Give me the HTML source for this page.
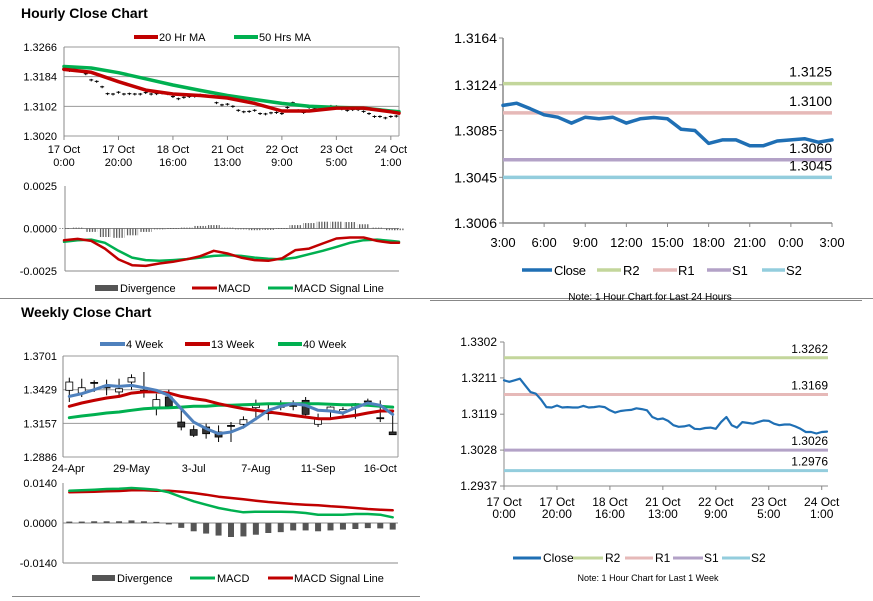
<!DOCTYPE html>
<html><head><meta charset="utf-8"><style>
body{margin:0;background:#fff;}
svg{display:block;font-family:"Liberation Sans",Arial,sans-serif;}
</style></head><body>
<svg id="s" width="873" height="601" xmlns="http://www.w3.org/2000/svg">
<defs><pattern id="stripes" width="2.7" height="4" patternUnits="userSpaceOnUse"><rect width="1.2" height="4" fill="#555"/></pattern></defs>
<text x="21" y="18" font-size="14" font-weight="bold" fill="#000">Hourly Close Chart</text>
<text x="21" y="317" font-size="14" font-weight="bold" fill="#000">Weekly Close Chart</text>
<line x1="0" y1="298.5" x2="873" y2="298.5" stroke="#888"/>
<line x1="12" y1="596.5" x2="420" y2="596.5" stroke="#888"/>
<!-- legends -->
<g font-size="11" fill="#000">
<line x1="134" y1="37" x2="158" y2="37" stroke="#c00000" stroke-width="4"/><text x="159" y="41">20 Hr MA</text>
<line x1="234" y1="37" x2="258" y2="37" stroke="#00b050" stroke-width="4"/><text x="259" y="41">50 Hrs MA</text>
</g>
<g font-size="11" fill="#000">
<rect x="95" y="285" width="23" height="6" fill="#555"/><text x="120" y="292">Divergence</text>
<line x1="192" y1="288" x2="217" y2="288" stroke="#c00000" stroke-width="3"/><text x="218" y="292">MACD</text>
<line x1="268" y1="288" x2="293" y2="288" stroke="#00b050" stroke-width="3"/><text x="294" y="292">MACD Signal Line</text>
</g>
<g font-size="11" fill="#000">
<line x1="100" y1="344" x2="125" y2="344" stroke="#4f81bd" stroke-width="4"/><text x="126" y="348">4 Week</text>
<line x1="185" y1="344" x2="210" y2="344" stroke="#c00000" stroke-width="4"/><text x="211" y="348">13 Week</text>
<line x1="278" y1="344" x2="302" y2="344" stroke="#00b050" stroke-width="4"/><text x="303" y="348">40 Week</text>
</g>
<g font-size="11" fill="#000">
<rect x="92" y="575" width="23" height="6" fill="#555"/><text x="117" y="582">Divergence</text>
<line x1="190" y1="578" x2="215" y2="578" stroke="#00b050" stroke-width="3"/><text x="217" y="582">MACD</text>
<line x1="268" y1="578" x2="293" y2="578" stroke="#c00000" stroke-width="3"/><text x="294" y="582">MACD Signal Line</text>
</g>
<g font-size="13" fill="#000">
<line x1="522" y1="270" x2="552" y2="270" stroke="#1f6fb4" stroke-width="3.5"/><text x="554" y="275" textLength="32">Close</text>
<line x1="597" y1="270" x2="621" y2="270" stroke="#c3d69b" stroke-width="3.5"/><text x="623" y="275">R2</text>
<line x1="653" y1="270" x2="677" y2="270" stroke="#e6b9b8" stroke-width="3.5"/><text x="678" y="275">R1</text>
<line x1="707" y1="270" x2="731" y2="270" stroke="#b3a2c7" stroke-width="3.5"/><text x="732" y="275">S1</text>
<line x1="762" y1="270" x2="785" y2="270" stroke="#93cddd" stroke-width="3.5"/><text x="786" y="275">S2</text>
<text x="650" y="300" font-size="10" text-anchor="middle">Note: 1 Hour Chart for Last 24 Hours</text>
</g>
<line x1="430" y1="300.5" x2="862" y2="300.5" stroke="#888"/>
<g font-size="12" fill="#000">
<line x1="513" y1="558" x2="541" y2="558" stroke="#1f6fb4" stroke-width="3"/><text x="543" y="562">Close</text>
<line x1="573" y1="558" x2="603" y2="558" stroke="#c3d69b" stroke-width="3"/><text x="605" y="562">R2</text>
<line x1="625" y1="558" x2="653" y2="558" stroke="#e6b9b8" stroke-width="3"/><text x="655" y="562">R1</text>
<line x1="673" y1="558" x2="703" y2="558" stroke="#b3a2c7" stroke-width="3"/><text x="704" y="562">S1</text>
<line x1="722" y1="558" x2="750" y2="558" stroke="#93cddd" stroke-width="3"/><text x="751" y="562">S2</text>
<text x="648" y="581" font-size="9" text-anchor="middle">Note: 1 Hour Chart for  Last 1 Week</text>
</g>
</svg>
<script>
// ---- data: hourly close (shared, 2-hour steps) ----
const closeHours=[0,2,4,6,8,10,12,14,16,18,20,22,24,26,28,30,32,34,36,38,40,42,44,46,48,50,52,54,56,58,60,62,64,66,68,70,72,74,76,78,80,82,84,86,88,90,92,94,96,98,100,102,104,106,108,110,112,114,116,118,120,122];
const closeVals=[1.3205,1.3201,1.3205,1.3209,1.3192,1.3175,1.3171,1.3156,1.3137,1.3136,1.3141,1.3136,1.3137,1.3136,1.3136,1.3140,1.3136,1.3137,1.3139,1.3137,1.3129,1.3123,1.3127,1.3129,1.3130,1.3134,1.3132,1.3129,1.3112,1.3106,1.3108,1.3102,1.3091,1.3087,1.3088,1.3091,1.3082,1.3081,1.3084,1.3085,1.3082,1.3099,1.3112,1.3091,1.3085,1.3099,1.3097,1.3095,1.3099,1.3103,1.3102,1.3095,1.3091,1.3093,1.3093,1.3088,1.3082,1.3074,1.3074,1.3070,1.3074,1.3075];
const maHours=[0,10,20,30,40,50,60,70,80,90,100,110,120,123];
const ma20=[1.3204,1.3196,1.3170,1.3147,1.3136,1.3132,1.3125,1.3110,1.3089,1.3089,1.3097,1.3097,1.3087,1.3083];
const ma50=[1.3212,1.3208,1.3195,1.3178,1.3161,1.3146,1.3132,1.3121,1.3110,1.3102,1.3099,1.3097,1.3089,1.3087];
const hTickHours=[0,20,40,60,80,100,120];
const hTickL1=["17 Oct","17 Oct","18 Oct","21 Oct","22 Oct","23 Oct","24 Oct"];
const hTickL2=["0:00","20:00","16:00","13:00","9:00","5:00","1:00"];
const hYTicks=[1.3020,1.3102,1.3184,1.3266];
// hourly MACD (5-hour steps)
const macdHours=[0,5,10,15,20,25,30,35,40,45,50,55,60,65,70,75,80,85,90,95,100,105,110,115,120,123];
const macdH=[-0.00069,-0.00061,-0.00073,-0.00118,-0.00182,-0.00216,-0.00220,-0.00206,-0.00196,-0.00181,-0.00163,-0.00131,-0.00147,-0.00171,-0.00186,-0.00190,-0.00176,-0.00127,-0.00118,-0.00088,-0.00059,-0.00053,-0.00053,-0.00073,-0.00084,-0.00084];
const signalH=[-0.00078,-0.00069,-0.00065,-0.00084,-0.00131,-0.00171,-0.00186,-0.00190,-0.00186,-0.00180,-0.00171,-0.00161,-0.00157,-0.00161,-0.00171,-0.00178,-0.00182,-0.00171,-0.00151,-0.00131,-0.00108,-0.00084,-0.00069,-0.00065,-0.00073,-0.00078];
const divH=[0.00003,0.00005,-0.0002,-0.0005,-0.00055,-0.0004,-0.0002,-0.00005,0.00002,0.00005,0.00015,0.0002,0.00005,-0.00005,-0.0001,-0.00008,0.00002,0.0002,0.00032,0.0004,0.0004,0.00038,0.00025,0.00005,-0.0001,-0.0001];
const macdYTicks=[-0.0025,0,0.0025];
// right top: last 24 hours
const dayHours=[0,1,2,3,4,5,6,7,8,9,10,11,12,13,14,15,16,17,18,19,20,21,22,23,24];
const dayClose=[1.31064,1.31083,1.31035,1.30984,1.30964,1.30913,1.30964,1.3095,1.30964,1.30913,1.3095,1.30961,1.3095,1.3086,1.3085,1.3074,1.3077,1.3077,1.3072,1.3072,1.3076,1.3077,1.3078,1.3075,1.3077];
const dayLevels=[1.3125,1.3100,1.3060,1.3045];
const dayLevelLabels=["1.3125","1.3100","1.3060","1.3045"];
const dayYTicks=[1.3006,1.3045,1.3085,1.3124,1.3164];
const dayXTickHours=[0,3,6,9,12,15,18,21,24];
const dayXTicks=["3:00","6:00","9:00","12:00","15:00","18:00","21:00","0:00","3:00"];
// right bottom: week
const weekLevels=[1.3262,1.3169,1.3028,1.2976];
const weekLevelLabels=["1.3262","1.3169","1.3026","1.2976"];
const weekYTicks=[1.2937,1.3028,1.3119,1.3211,1.3302];
// weekly candles
const wOpen=[1.3424,1.3402,1.3488,1.3464,1.3411,1.3491,1.3424,1.3289,1.3370,1.3168,1.3107,1.3128,1.3088,1.3141,1.3150,1.3284,1.3236,1.3295,1.3303,1.3343,1.3150,1.3257,1.3246,1.3284,1.3338,1.3203,1.3088];
const wHigh=[1.3526,1.3518,1.3505,1.3510,1.3518,1.3553,1.3572,1.3397,1.3429,1.3276,1.3141,1.3155,1.3141,1.3168,1.3214,1.3349,1.3322,1.3343,1.3343,1.3370,1.3236,1.3295,1.3289,1.3322,1.3357,1.3343,1.3249];
const wLow=[1.3330,1.3370,1.3411,1.3384,1.3384,1.3429,1.3365,1.3222,1.3295,1.3101,1.3047,1.3034,1.3007,1.3007,1.3115,1.3182,1.3182,1.3263,1.3263,1.3222,1.3128,1.3195,1.3222,1.3195,1.3316,1.3168,1.3066];
const wClose=[1.3491,1.3445,1.3486,1.3443,1.3437,1.3526,1.3411,1.3349,1.3295,1.3128,1.3061,1.3074,1.3047,1.3138,1.3187,1.3303,1.3249,1.3290,1.3300,1.3230,1.3195,1.3289,1.3268,1.3316,1.3336,1.3200,1.3066];
const ma4=[1.3375,1.3397,1.3429,1.3464,1.3456,1.3464,1.3445,1.3424,1.3384,1.3276,1.3168,1.3115,1.3074,1.3088,1.3128,1.3195,1.3263,1.3295,1.3316,1.3303,1.3263,1.3257,1.3241,1.3284,1.3322,1.3303,1.3230];
const ma13=[1.3295,1.3322,1.3343,1.3362,1.3375,1.3402,1.3411,1.3411,1.3402,1.3375,1.3357,1.3343,1.3316,1.3295,1.3276,1.3263,1.3249,1.3236,1.3222,1.3209,1.3195,1.3195,1.3209,1.3222,1.3241,1.3257,1.3257];
const ma40=[1.3203,1.3217,1.3228,1.3241,1.3249,1.3263,1.3276,1.3281,1.3284,1.3289,1.3295,1.3295,1.3303,1.3303,1.3308,1.3311,1.3316,1.3316,1.3316,1.3316,1.3316,1.3311,1.3308,1.3308,1.3303,1.3295,1.3289];
const wTickIdx=[0,5,10,15,20,25];
const wTickLabels=["24-Apr","29-May","3-Jul","7-Aug","11-Sep","16-Oct"];
const wYTicks=[1.2886,1.3157,1.3429,1.3701];
const wMacd=[0.01132,0.01144,0.01167,0.0119,0.01202,0.01225,0.01202,0.01167,0.01074,0.0091,0.00759,0.00642,0.00525,0.00443,0.00373,0.00397,0.00397,0.00397,0.00385,0.0035,0.00292,0.00292,0.00292,0.00315,0.00315,0.00292,0.00198];
const wSignal=[0.01074,0.01085,0.01097,0.01109,0.0112,0.01144,0.01144,0.01132,0.01132,0.01097,0.0105,0.00992,0.00922,0.00875,0.00829,0.00782,0.00735,0.007,0.00665,0.00642,0.00619,0.00584,0.0056,0.00525,0.0049,0.00467,0.00443];
const wDiv=[0.0005,0.0005,0.0006,0.0006,0.0006,0.0009,0.0006,0.0004,-0.0005,-0.0017,-0.0029,-0.0037,-0.0044,-0.0049,-0.0047,-0.0041,-0.0035,-0.0032,-0.0026,-0.0026,-0.0029,-0.0026,-0.0023,-0.0021,-0.0018,-0.0019,-0.0023];
const wMacdYTicks=[-0.014,0,0.014];

const NS="http://www.w3.org/2000/svg";
const svg=document.getElementById('s');
function mk(tag,attrs,name,parent){
  const el=document.createElementNS(NS,tag);
  for(const k in attrs) el.setAttribute(k,attrs[k]);
  
  
  (parent||svg).appendChild(el);
  return el;
}
function lin(d0,d1,r0,r1){return v=>r0+(v-d0)*(r1-r0)/(d1-d0);}
function poly(xs,ys,fx,fy,stroke,w,name){
  const pts=xs.map((x,i)=>fx(x).toFixed(1)+','+fy(ys[i]).toFixed(1)).join(' ');
  return mk('polyline',{points:pts,fill:'none',stroke:stroke,'stroke-width':w,'stroke-linejoin':'round','stroke-linecap':'round'},name);
}
function txt(x,y,s,size,anchor,name){
  const t=mk('text',{x:x,y:y,'font-size':size,'text-anchor':anchor,fill:'#000'},name);
  t.textContent=s;return t;
}
// ===== Hourly top-left =====
{
  const fx=lin(0,123,64,399), fy=lin(1.3020,1.3266,136,47);
  hYTicks.forEach(v=>{ mk('line',{x1:64,x2:399,y1:fy(v),y2:fy(v),stroke:'#999'},'h-gridline'); txt(57,fy(v)+4,v.toFixed(4),11,'end','h-y-tick-label');});
  mk('line',{x1:64,x2:64,y1:47,y2:136,stroke:'#888'},'h-y-axis');
  mk('line',{x1:399,x2:399,y1:47,y2:136,stroke:'#999'},'h-plot-border');
  hTickHours.forEach((h,i)=>{ mk('line',{x1:fx(h),x2:fx(h),y1:136,y2:140,stroke:'#888'},'h-x-tick'); txt(fx(h),153,hTickL1[i],11,'middle','h-x-tick-label'); txt(fx(h),166,hTickL2[i],11,'middle','h-x-tick-label');});
  closeHours.forEach((h,i)=>{ mk('line',{x1:fx(h),x2:fx(h),y1:fy(closeVals[i]+0.0003),y2:fy(closeVals[i]-0.0004),stroke:'#000','stroke-width':1},'h-close-bar'); mk('line',{x1:fx(h)-2,x2:fx(h)+2,y1:fy(closeVals[i]),y2:fy(closeVals[i]),stroke:'#000','stroke-width':1},'h-close-tick');});
  poly(maHours,ma50,fx,fy,'#00b050',3.5,'ma50-line');
  poly(maHours,ma20,fx,fy,'#c00000',3.5,'ma20-line');
  // MACD
  const my=lin(-0.0025,0.0025,271,186);
  macdYTicks.forEach(v=>txt(57,my(v)+4,v.toFixed(4),11,'end','h-macd-y-tick-label'));
  mk('line',{x1:65,x2:65,y1:186,y2:271,stroke:'#888'},'h-macd-y-axis');
  mk('line',{x1:65,x2:399,y1:271,y2:271,stroke:'#888'},'h-macd-x-axis');
  mk('line',{x1:65,x2:399,y1:my(0),y2:my(0),stroke:'#888'},'h-macd-zero-line');
  macdHours.forEach((h,i)=>{ const v=divH[i], y0=my(0), y1=my(v); mk('rect',{x:fx(h)-6,y:Math.min(y0,y1),width:12,height:Math.max(0.8,Math.abs(y1-y0)),fill:'url(#stripes)'},'h-divergence-bar');});
  poly(macdHours,signalH,fx,my,'#00b050',2.5,'h-signal-line');
  poly(macdHours,macdH,fx,my,'#c00000',2.5,'h-macd-line');
}
// ===== Right top (24h) =====
{
  const fx=lin(0,24,503,832), fy=lin(1.3006,1.3164,223,38);
  const cols=['#c3d69b','#e6b9b8','#b3a2c7','#93cddd'];
  const nm=['r2-level','r1-level','s1-level','s2-level'];
  mk('line',{x1:503,x2:503,y1:38,y2:223,stroke:'#888','stroke-width':1.5},'d-y-axis');
  mk('line',{x1:503,x2:832,y1:223,y2:223,stroke:'#888','stroke-width':1.5},'d-x-axis');
  dayYTicks.forEach(v=>{ mk('line',{x1:499,x2:503,y1:fy(v),y2:fy(v),stroke:'#888'},'d-y-tick'); txt(497,fy(v)+5,v.toFixed(4),14,'end','d-y-tick-label');});
  dayXTickHours.forEach((h,i)=>{ mk('line',{x1:fx(h),x2:fx(h),y1:223,y2:227,stroke:'#888'},'d-x-tick'); txt(fx(h),247,dayXTicks[i],13,'middle','d-x-tick-label');});
  dayLevels.forEach((v,i)=>{ mk('line',{x1:503,x2:832,y1:fy(v),y2:fy(v),stroke:cols[i],'stroke-width':3.5},nm[i]);});
  poly(dayHours,dayClose,fx,fy,'#1f6fb4',3.5,'d-close-line');
  dayLevels.forEach((v,i)=>txt(832,fy(v)-7,dayLevelLabels[i],14,'end','d-level-label'));
}
// ===== Right bottom (week) =====
{
  const fx=lin(0,122,504,827), fy=lin(1.2937,1.3302,486,342);
  const cols=['#c3d69b','#e6b9b8','#b3a2c7','#93cddd'];
  const nm=['w-r2-level','w-r1-level','w-s1-level','w-s2-level'];
  mk('line',{x1:504,x2:504,y1:342,y2:486,stroke:'#888'},'wk-y-axis');
  mk('line',{x1:504,x2:828,y1:486,y2:486,stroke:'#888'},'wk-x-axis');
  weekYTicks.forEach(v=>{ mk('line',{x1:500,x2:504,y1:fy(v),y2:fy(v),stroke:'#888'},'wk-y-tick'); txt(497,fy(v)+4,v.toFixed(4),12,'end','wk-y-tick-label');});
  hTickHours.forEach((h,i)=>{ mk('line',{x1:fx(h),x2:fx(h),y1:486,y2:490,stroke:'#888'},'wk-x-tick'); txt(fx(h),506,hTickL1[i],12,'middle','wk-x-tick-label'); txt(fx(h),518,hTickL2[i],12,'middle','wk-x-tick-label');});
  weekLevels.forEach((v,i)=>mk('line',{x1:504,x2:828,y1:fy(v),y2:fy(v),stroke:cols[i],'stroke-width':3},nm[i]));
  poly(closeHours,closeVals,fx,fy,'#1f6fb4',2.2,'wk-close-line');
  weekLevels.forEach((v,i)=>txt(828,fy(v)-5,weekLevelLabels[i],12,'end','wk-level-label'));
}
// ===== Weekly candles =====
{
  const fx=lin(0,26,69.3,392.7), fy=lin(1.2886,1.3701,457,356);
  wYTicks.forEach(v=>{ mk('line',{x1:63,x2:398,y1:fy(v),y2:fy(v),stroke:'#999'},'w-gridline'); txt(57,fy(v)+4,v.toFixed(4),11,'end','w-y-tick-label');});
  mk('line',{x1:63,x2:63,y1:356,y2:457,stroke:'#888'},'w-y-axis');
  mk('line',{x1:398,x2:398,y1:356,y2:457,stroke:'#999'},'w-plot-border');
  wTickIdx.forEach((k,i)=>txt(fx(k)+(i==0?-1:0),472,wTickLabels[i],11,'middle','w-x-tick-label'));
  wOpen.forEach((o,i)=>{
    const x=fx(i);
    mk('line',{x1:x,x2:x,y1:fy(wHigh[i]),y2:fy(wLow[i]),stroke:'#000'},'candle-wick');
    const top=fy(Math.max(o,wClose[i])), bot=fy(Math.min(o,wClose[i]));
    const up=wClose[i]>=o;
    mk('rect',{x:x-3.5,y:top,width:7,height:Math.max(1,bot-top),fill:up?'#fff':'#333',stroke:'#000','stroke-width':0.8},'candle-body');
  });
  const idx=wOpen.map((_,i)=>i);
  poly(idx,ma40,fx,fy,'#00b050',3,'ma40-line');
  poly(idx,ma13,fx,fy,'#c00000',3,'ma13-line');
  poly(idx,ma4,fx,fy,'#4f81bd',3,'ma4-line');
  // weekly MACD
  const my=lin(-0.014,0.014,563,483);
  wMacdYTicks.forEach(v=>txt(57,my(v)+4,v.toFixed(4),11,'end','w-macd-y-tick-label'));
  mk('line',{x1:63,x2:63,y1:483,y2:563,stroke:'#888'},'w-macd-y-axis');
  mk('line',{x1:63,x2:398,y1:563,y2:563,stroke:'#888'},'w-macd-x-axis');
  mk('line',{x1:63,x2:398,y1:my(0),y2:my(0),stroke:'#888'},'w-macd-zero-line');
  wDiv.forEach((v,i)=>{ const y0=my(0),y1=my(v); mk('rect',{x:fx(i)-3,y:Math.min(y0,y1),width:6,height:Math.abs(y1-y0),fill:'#555'},'w-divergence-bar');});
  poly(idx,wSignal,fx,my,'#c00000',2.5,'w-signal-line');
  poly(idx,wMacd,fx,my,'#00b050',2.5,'w-macd-line');
}
</script>
</body></html>
